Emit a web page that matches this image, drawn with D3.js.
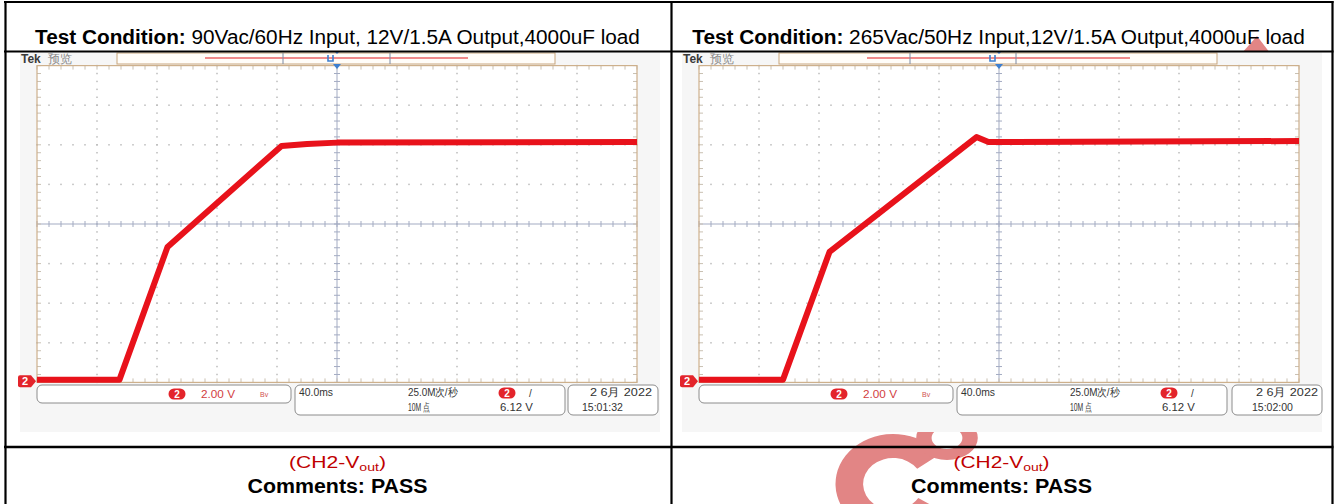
<!DOCTYPE html>
<html>
<head>
<meta charset="utf-8">
<script src="https://cdn.jsdelivr.net/npm/d3@7"></script>
<style>
  body { margin: 0; background: #fff; }
  svg { display: block; }
</style>
</head>
<body>
<script>
var conditions = ['90Vac/60Hz Input, 12V/1.5A Output,4000uF load',
                  '265Vac/50Hz Input,12V/1.5A Output,4000uF load'];
var clockTimes = ['15:01:32', '15:02:00'];
var dateText = '2 6月 2022';
var voltsPerDiv = '2.00 V';
var timePerDiv = '40.0ms';
var sampleRate = '25.0M次/秒';
var recordLength = '10M 点';
var trigLevel = '6.12 V';

// time in ms (trigger at 0), CH2 voltage in V
var timeA = [-200, -145, -113, -37, -20, 0, 200];
var voltA = [0, 0, 6.7, 11.8, 11.9, 11.97, 12.0];
var timeB = [-200, -144, -113, -15, -7, 200];
var voltB = [0, 0, 6.45, 12.25, 12.0, 12.05];

var W = 1335, H = 504;
var red = '#e8121b', tagRed = '#e3242b', pink = '#e28585';

var svg = d3.select('body').append('svg')
  .attr('width', W).attr('height', H)
  .style('font-family', 'Liberation Sans, Arial, sans-serif');

// stretch a text horizontally so it covers width w
function label(parent, x, y, w, anchor, parts, size, fill) {
  var g = parent.append('g');
  var t = g.append('text')
    .attr('text-anchor', anchor)
    .attr('font-size', size)
    .attr('fill', fill);
  parts.forEach(function (p) {
    var s = t.append('tspan').text(p.text);
    if (p.bold) s.attr('font-weight', 'bold');
    if (p.size) s.attr('font-size', p.size);
    if (p.dy) s.attr('dy', p.dy);
    if (p.fill) s.attr('fill', p.fill);
  });
  var len = t.node().getComputedTextLength();
  g.attr('transform', 'translate(' + x + ',' + y + ') scale(' + (w / len) + ',1)');
  return g;
}

// watermark pieces (under everything)
var wm = svg.append('g').attr('fill', pink);
wm.append('path')
  .attr('transform', 'translate(893,484) scale(1.15,1)')
  .attr('d', d3.arc().innerRadius(26).outerRadius(50)
    .startAngle(Math.PI * 0.68).endAngle(Math.PI * 2.3)());
wm.append('path')
  .attr('transform', 'translate(947,438) scale(1.4,1)')
  .attr('d', d3.arc().innerRadius(11).outerRadius(22)
    .startAngle(0).endAngle(Math.PI * 2)());
wm.append('polygon').attr('points', '1242,53 1257,36 1270,53');

var panels = [
  { ox: 0, time: timeA, volt: voltA, dividers: [283, 390], clock: clockTimes[0], dx3: 0 },
  { ox: 662, time: timeB, volt: voltB, dividers: [910, 1016], clock: clockTimes[1], dx3: 4 }
];

panels.forEach(function (p) {
  var ox = p.ox;
  var g = svg.append('g');
  var gx0 = 37 + ox, gx1 = 637 + ox, gy0 = 65.6, gy1 = 382.4;

  var x = d3.scaleLinear().domain([-200, 200]).range([gx0, gx1]);
  var y = d3.scaleLinear().domain([-0.14, 15.86]).range([gy1, gy0]);
  var divY = d3.scaleLinear().domain([0, 8]).range([gy1, gy0]);

  // screenshot background
  g.append('rect').attr('x', 20 + ox).attr('y', 52).attr('width', 640).attr('height', 380)
    .attr('fill', '#f6f6f6');
  g.append('rect').attr('x', gx0).attr('y', gy0).attr('width', gx1 - gx0).attr('height', gy1 - gy0)
    .attr('fill', '#fff');

  // Tek label
  g.append('text').attr('x', 21 + ox).attr('y', 63).attr('font-size', 12).attr('font-weight', 'bold')
    .attr('fill', '#3a3a3a').text('Tek');
  g.append('text').attr('x', 48 + ox).attr('y', 63).attr('font-size', 12)
    .attr('fill', '#8a8a8a').text('预览');

  // record bar
  g.append('rect').attr('x', 117 + ox).attr('y', 53).attr('width', 438).attr('height', 11)
    .attr('fill', '#fffdf9').attr('stroke', '#c8a57c').attr('stroke-width', 1);
  g.append('line').attr('x1', 205 + ox).attr('x2', 468 + ox).attr('y1', 58).attr('y2', 58)
    .attr('stroke', '#ef8a8a').attr('stroke-width', 2);
  p.dividers.forEach(function (d) {
    g.append('line').attr('x1', d).attr('x2', d).attr('y1', 53).attr('y2', 64)
      .attr('stroke', '#7d8aa3').attr('stroke-width', 1);
  });

  // dotted grid
  var minorX = d3.range(-200, 200.1, 8), majorX = d3.range(-160, 161, 40);
  var minorY = d3.range(0, 8.01, 0.2), majorY = [1, 2, 3, 5, 6, 7];
  majorX.filter(function (t) { return t !== 0; }).forEach(function (t) {
    g.selectAll(null).data(minorY).enter().append('rect')
      .attr('x', x(t) - 0.75).attr('y', function (d) { return divY(d) - 0.75; })
      .attr('width', 1.5).attr('height', 1.5).attr('fill', '#bcbcbc');
  });
  majorY.forEach(function (k) {
    g.selectAll(null).data(minorX).enter().append('rect')
      .attr('x', function (d) { return x(d) - 0.75; }).attr('y', divY(k) - 0.75)
      .attr('width', 1.5).attr('height', 1.5).attr('fill', '#bcbcbc');
  });

  // centre cross with minor ticks
  var axisCol = '#a3abc2';
  g.append('line').attr('x1', gx0).attr('x2', gx1).attr('y1', divY(4)).attr('y2', divY(4))
    .attr('stroke', axisCol).attr('stroke-width', 1);
  g.append('line').attr('x1', x(0)).attr('x2', x(0)).attr('y1', gy0).attr('y2', gy1)
    .attr('stroke', axisCol).attr('stroke-width', 1);
  g.selectAll(null).data(minorX).enter().append('line')
    .attr('x1', function (d) { return x(d); }).attr('x2', function (d) { return x(d); })
    .attr('y1', divY(4) - 3).attr('y2', divY(4) + 3).attr('stroke', axisCol);
  g.selectAll(null).data(minorY).enter().append('line')
    .attr('x1', x(0) - 3).attr('x2', x(0) + 3)
    .attr('y1', function (d) { return divY(d); }).attr('y2', function (d) { return divY(d); })
    .attr('stroke', axisCol);

  // edge ticks
  var tickCol = '#c9c0b2';
  g.selectAll(null).data(minorX).enter().append('path')
    .attr('d', function (d) {
      return 'M' + x(d) + ',' + gy0 + 'v4M' + x(d) + ',' + gy1 + 'v-4';
    }).attr('stroke', tickCol);
  g.selectAll(null).data(minorY).enter().append('path')
    .attr('d', function (d) {
      return 'M' + gx0 + ',' + divY(d) + 'h4M' + gx1 + ',' + divY(d) + 'h-4';
    }).attr('stroke', tickCol);

  g.append('rect').attr('x', gx0).attr('y', gy0).attr('width', gx1 - gx0).attr('height', gy1 - gy0)
    .attr('fill', 'none').attr('stroke', '#cdb08c').attr('stroke-width', 1.2);

  // trigger position marker
  var tx = x(0), blue = '#3d7fd0';
  g.append('path').attr('d', 'M' + (tx - 4) + ',64 L' + (tx + 4) + ',64 L' + tx + ',69 Z').attr('fill', blue);
  g.append('path').attr('d', 'M' + (tx - 3) + ',51 L' + (tx + 3) + ',51 L' + tx + ',54 Z').attr('fill', blue);
  g.append('path').attr('d', 'M' + (tx - 9) + ',55 v6 h5 v-6').attr('fill', 'none')
    .attr('stroke', blue).attr('stroke-width', 1.6);

  // CH2 trace
  var pts = p.time.map(function (t, i) { return [t, p.volt[i]]; });
  g.append('path').datum(pts)
    .attr('d', d3.line().x(function (d) { return x(d[0]); }).y(function (d) { return y(d[1]); }))
    .attr('fill', 'none').attr('stroke', red).attr('stroke-width', 6)
    .attr('stroke-linejoin', 'round');

  // ground tag "2"
  var gy = y(0) + 1.5;
  g.append('path')
    .attr('d', 'M' + (20 + ox) + ',' + (gy - 6) + ' h11 l5,6 l-5,6 h-11 q-2,0 -2,-2 v-8 q0,-2 2,-2 Z')
    .attr('fill', tagRed);
  g.append('text').attr('x', 25 + ox).attr('y', gy + 4).attr('font-size', 11).attr('font-weight', 'bold')
    .attr('text-anchor', 'middle').attr('fill', '#fff').text('2');

  // info boxes
  var boxStroke = '#8c8c8c';
  g.append('rect').attr('x', 37 + ox).attr('y', 385).attr('width', 254).attr('height', 18).attr('rx', 5)
    .attr('fill', '#fff').attr('stroke', boxStroke);
  g.append('rect').attr('x', 295 + ox).attr('y', 385).attr('width', 270).attr('height', 30).attr('rx', 5)
    .attr('fill', '#fff').attr('stroke', boxStroke);
  g.append('rect').attr('x', 568 + ox + p.dx3 / 2).attr('y', 385).attr('width', 90).attr('height', 30).attr('rx', 5)
    .attr('fill', '#fff').attr('stroke', boxStroke);

  function badge(cx, cy) {
    g.append('rect').attr('x', cx - 8.5).attr('y', cy - 5.5).attr('width', 17).attr('height', 11).attr('rx', 5.5)
      .attr('fill', tagRed);
    g.append('text').attr('x', cx).attr('y', cy + 4).attr('font-size', 10).attr('font-weight', 'bold')
      .attr('text-anchor', 'middle').attr('fill', '#fff').text('2');
  }
  badge(177 + ox, 394);
  label(g, 201 + ox, 398, 34, 'start', [{ text: voltsPerDiv }], 11, '#d2403f');
  g.append('text').attr('x', 260 + ox).attr('y', 397).attr('font-size', 7).attr('fill', '#d05050').text('Bv');

  label(g, 299 + ox, 396, 34, 'start', [{ text: timePerDiv }], 11, '#333');
  label(g, 408 + ox, 396, 50, 'start', [{ text: sampleRate }], 11, '#333');
  label(g, 408 + ox, 411, 22, 'start', [{ text: recordLength }], 11, '#333');
  badge(507 + ox, 393);
  g.append('text').attr('x', 529 + ox).attr('y', 397).attr('font-size', 10).attr('fill', '#333').text('/');
  label(g, 500 + ox, 411, 33, 'start', [{ text: trigLevel }], 11, '#333');

  label(g, 652 + ox + p.dx3, 396, 62, 'end', [{ text: dateText }], 11, '#333');
  label(g, 582 + ox + p.dx3 + (p.dx3 ? 4 : 0), 411, 41, 'start', [{ text: p.clock }], 11, '#333');
});

// table texts
var cells = [{ cx: 337.5, w: 605, wc: 97, wp: 180 }, { cx: 998.5, w: 613, wc: 96, wp: 181 }];
cells.forEach(function (c, i) {
  label(svg, c.cx, 44, c.w, 'middle',
    [{ text: 'Test Condition:', bold: true }, { text: ' ' + conditions[i] }], 20, '#000');
  label(svg, c.cx + (i ? 3 : 0), 468, c.wc, 'middle',
    [{ text: '(CH2-V' }, { text: 'out', size: 11, dy: 3 }, { text: ')', dy: -3 }], 16.5, '#c00000');
  label(svg, c.cx + (i ? 3 : 0), 493, c.wp, 'middle',
    [{ text: 'Comments: PASS', bold: true }], 20, '#000');
});

// table rules
var rules = svg.append('g').attr('stroke', '#000').attr('stroke-width', 2.2);
rules.append('line').attr('x1', 4).attr('x2', 1333.5).attr('y1', 2).attr('y2', 2);
rules.append('line').attr('x1', 4).attr('x2', 1333.5).attr('y1', 51.5).attr('y2', 51.5);
rules.append('line').attr('x1', 4).attr('x2', 1333.5).attr('y1', 447).attr('y2', 447).attr('stroke-width', 2.6);
rules.append('line').attr('x1', 5.5).attr('x2', 5.5).attr('y1', 1).attr('y2', H);
rules.append('line').attr('x1', 671.5).attr('x2', 671.5).attr('y1', 1).attr('y2', H);
rules.append('line').attr('x1', 1332.5).attr('x2', 1332.5).attr('y1', 1).attr('y2', H);
</script>
</body>
</html>
